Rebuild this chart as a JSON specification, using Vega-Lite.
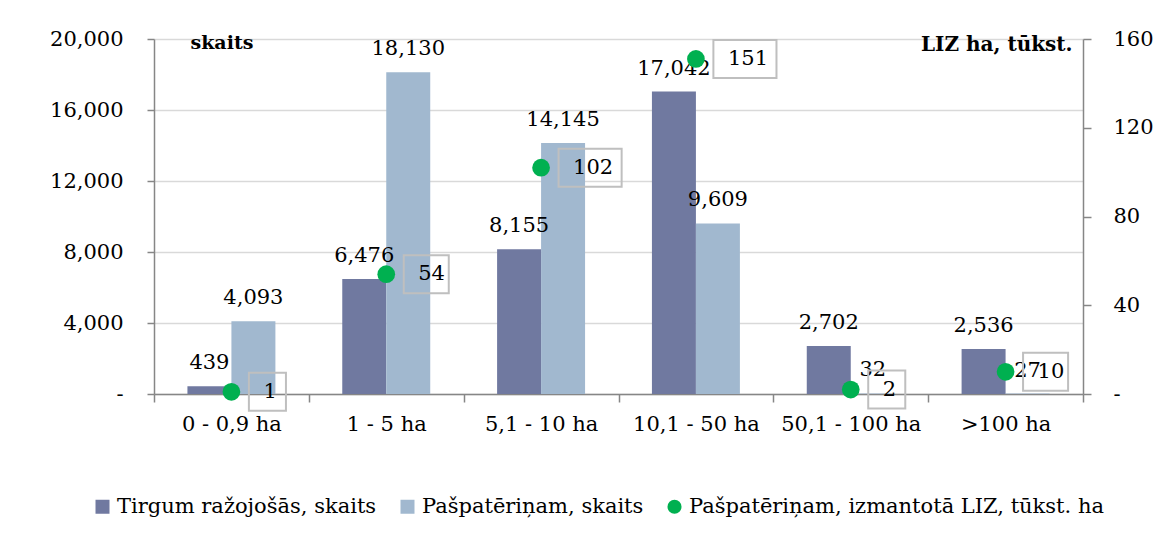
{
  "$schema": "https://vega.github.io/schema/vega-lite/v6.json",
  "width": 929,
  "height": 355,
  "autosize": {"type": "none"},
  "padding": {"left": 154, "top": 39, "right": 77, "bottom": 146},
  "background": "white",
  "config": {
    "font": "DejaVu Serif",
    "view": {"stroke": null},
    "axis": {"labelColor": "#000", "titleColor": "#000", "labelFont": "DejaVu Serif", "titleFont": "DejaVu Serif", "domainColor": "#868686", "tickColor": "#868686", "domainWidth": 1.5, "tickWidth": 1.5},
    "legend": {"labelFont": "DejaVu Serif"},
    "text": {"font": "DejaVu Serif", "fontSize": 21, "color": "#000"}
  },
  "datasets": {
    "counts": [
      {"cat": "0 - 0,9 ha", "series": "Tirgum ražojošās, skaits", "value": 439},
      {"cat": "0 - 0,9 ha", "series": "Pašpatēriņam, skaits", "value": 4093},
      {"cat": "1 - 5 ha", "series": "Tirgum ražojošās, skaits", "value": 6476},
      {"cat": "1 - 5 ha", "series": "Pašpatēriņam, skaits", "value": 18130},
      {"cat": "5,1 - 10 ha", "series": "Tirgum ražojošās, skaits", "value": 8155},
      {"cat": "5,1 - 10 ha", "series": "Pašpatēriņam, skaits", "value": 14145},
      {"cat": "10,1 - 50 ha", "series": "Tirgum ražojošās, skaits", "value": 17042},
      {"cat": "10,1 - 50 ha", "series": "Pašpatēriņam, skaits", "value": 9609},
      {"cat": "50,1 - 100 ha", "series": "Tirgum ražojošās, skaits", "value": 2702},
      {"cat": "50,1 - 100 ha", "series": "Pašpatēriņam, skaits", "value": 32},
      {"cat": ">100 ha", "series": "Tirgum ražojošās, skaits", "value": 2536},
      {"cat": ">100 ha", "series": "Pašpatēriņam, skaits", "value": 27}
    ],
    "liz": [
      {"cat": "0 - 0,9 ha", "series": "Pašpatēriņam, izmantotā LIZ, tūkst. ha", "liz": 1},
      {"cat": "1 - 5 ha", "series": "Pašpatēriņam, izmantotā LIZ, tūkst. ha", "liz": 54},
      {"cat": "5,1 - 10 ha", "series": "Pašpatēriņam, izmantotā LIZ, tūkst. ha", "liz": 102},
      {"cat": "10,1 - 50 ha", "series": "Pašpatēriņam, izmantotā LIZ, tūkst. ha", "liz": 151},
      {"cat": "50,1 - 100 ha", "series": "Pašpatēriņam, izmantotā LIZ, tūkst. ha", "liz": 2},
      {"cat": ">100 ha", "series": "Pašpatēriņam, izmantotā LIZ, tūkst. ha", "liz": 10}
    ]
  },
  "layer": [
    {
      "data": {"name": "counts"},
      "encoding": {
        "x": {
          "field": "cat", "type": "nominal",
          "sort": ["0 - 0,9 ha", "1 - 5 ha", "5,1 - 10 ha", "10,1 - 50 ha", "50,1 - 100 ha", ">100 ha"],
          "scale": {"paddingInner": 0, "paddingOuter": 0},
          "axis": {"title": null, "labelAngle": 0, "tickBand": "extent", "tickSize": 8, "labelPadding": 11, "labelFontSize": 21, "grid": false}
        },
        "y": {
          "field": "value", "type": "quantitative",
          "scale": {"domain": [0, 20000], "nice": false},
          "axis": {
            "orient": "left",
            "values": [0, 4000, 8000, 12000, 16000, 20000],
            "labelExpr": "datum.value == 0 ? '-\u00a0\u00a0' : format(datum.value, ',')",
            "labelFontSize": 21, "labelPadding": 24, "tickSize": 7,
            "grid": true, "gridColor": "#D9D9D9", "gridWidth": 1.5,
            "title": "skaits", "titleAngle": 0, "titleX": 36, "titleY": 9,
            "titleAlign": "left", "titleBaseline": "alphabetic",
            "titleFontWeight": "bold", "titleFontSize": 19
          }
        }
      },
      "layer": [
        {
          "mark": {"type": "bar"},
          "encoding": {
            "xOffset": {"field": "series", "type": "nominal", "sort": ["Tirgum ražojošās, skaits", "Pašpatēriņam, skaits"], "scale": {"paddingInner": 0, "paddingOuter": 0.76}},
            "color": {
              "field": "series", "type": "nominal",
              "scale": {"domain": ["Tirgum ražojošās, skaits", "Pašpatēriņam, skaits", "Pašpatēriņam, izmantotā LIZ, tūkst. ha"], "range": ["#7079A0", "#A1B8CF", "#00B050"]},
              "legend": {"title": null, "orient": "none", "legendX": -62, "legendY": 457, "direction": "horizontal", "padding": 0, "labelFontSize": 21, "labelColor": "#000", "symbolSize": 196, "labelOffset": 4, "columnPadding": 20, "symbolStrokeWidth": 0, "labelLimit": 600}
            }
          }
        },
        {
          "mark": {"type": "text", "baseline": "alphabetic", "dy": -17, "fontSize": 21},
          "encoding": {
            "xOffset": {"field": "series", "type": "nominal", "sort": ["Tirgum ražojošās, skaits", "Pašpatēriņam, skaits"], "scale": {"paddingInner": 0, "paddingOuter": 0.76}},
            "text": {"field": "value", "type": "quantitative", "format": ","}
          }
        }
      ]
    },
    {
      "data": {"name": "liz"},
      "encoding": {
        "x": {
          "field": "cat", "type": "nominal",
          "sort": ["0 - 0,9 ha", "1 - 5 ha", "5,1 - 10 ha", "10,1 - 50 ha", "50,1 - 100 ha", ">100 ha"],
          "scale": {"paddingInner": 0, "paddingOuter": 0}
        },
        "y": {
          "field": "liz", "type": "quantitative",
          "scale": {"domain": [0, 160], "nice": false},
          "axis": {
            "orient": "right",
            "values": [0, 40, 80, 120, 160],
            "labelExpr": "datum.value == 0 ? '-' : format(datum.value, ',')",
            "labelFontSize": 21, "labelPadding": 22, "tickSize": 8, "grid": false,
            "title": "LIZ ha, tūkst.", "titleAngle": 0, "titleX": -11, "titleY": 11,
            "titleAlign": "right", "titleBaseline": "alphabetic",
            "titleFontWeight": "bold", "titleFontSize": 20
          }
        }
      },
      "layer": [
        {
          "transform": [{"filter": "datum.liz < 10"}],
          "mark": {"type": "point", "shape": "M0.92,-1H2.87V1H0.92Z", "size": 1444, "filled": false, "stroke": "#BFBFBF", "strokeWidth": 2, "opacity": 1}
        },
        {
          "transform": [{"filter": "datum.liz >= 10 && datum.liz < 100"}],
          "mark": {"type": "point", "shape": "M0.92,-1H3.29V1H0.92Z", "size": 1444, "filled": false, "stroke": "#BFBFBF", "strokeWidth": 2, "opacity": 1}
        },
        {
          "transform": [{"filter": "datum.liz >= 100"}],
          "mark": {"type": "point", "shape": "M0.92,-1H4.24V1H0.92Z", "size": 1444, "filled": false, "stroke": "#BFBFBF", "strokeWidth": 2, "opacity": 1}
        },
        {
          "mark": {"type": "point", "filled": true, "size": 314, "opacity": 1},
          "encoding": {
            "color": {"field": "series", "type": "nominal"},
            "shape": {
              "field": "series", "type": "nominal",
              "scale": {"domain": ["Tirgum ražojošās, skaits", "Pašpatēriņam, skaits", "Pašpatēriņam, izmantotā LIZ, tūkst. ha"], "range": ["square", "square", "circle"]},
              "legend": {"title": null, "orient": "none", "legendX": -62, "legendY": 457, "direction": "horizontal", "padding": 0, "labelFontSize": 21, "labelColor": "#000", "symbolSize": 196, "labelOffset": 4, "columnPadding": 20, "symbolStrokeWidth": 0, "labelLimit": 600}
            }
          }
        },
        {
          "mark": {"type": "text", "align": "left", "baseline": "middle", "dx": 32, "fontSize": 21},
          "encoding": {"text": {"field": "liz", "type": "quantitative"}}
        }
      ]
    }
  ],
  "resolve": {"scale": {"y": "independent"}}
}
